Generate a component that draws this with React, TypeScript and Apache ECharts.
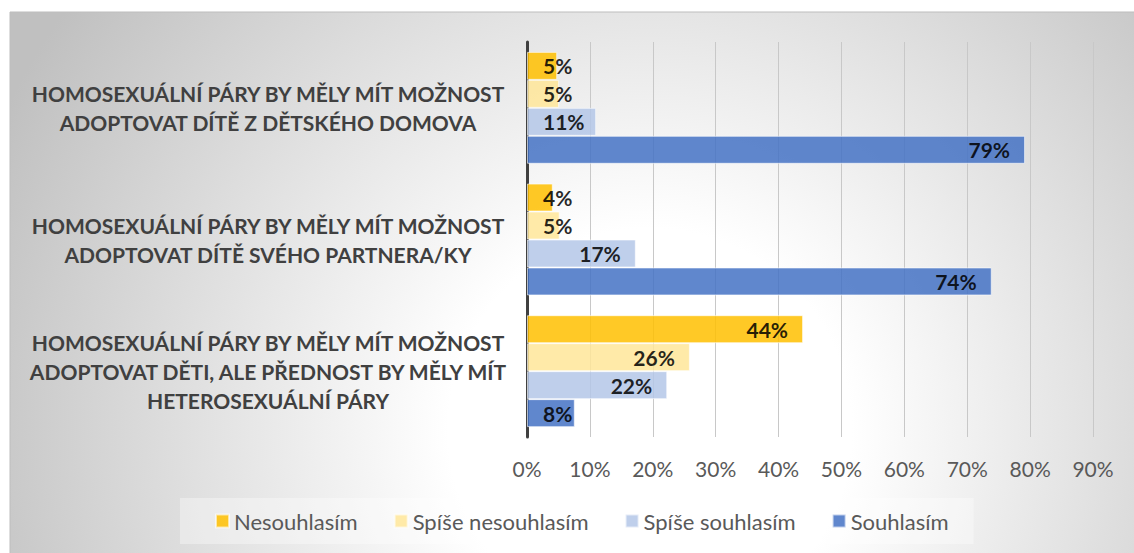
import React, { useEffect, useRef } from "react";
import * as echarts from "echarts";

const categories = [
  "HOMOSEXUÁLNÍ PÁRY BY MĚLY MÍT MOŽNOST\nADOPTOVAT DÍTĚ Z DĚTSKÉHO DOMOVA",
  "HOMOSEXUÁLNÍ PÁRY BY MĚLY MÍT MOŽNOST\nADOPTOVAT DÍTĚ SVÉHO PARTNERA/KY",
  "HOMOSEXUÁLNÍ PÁRY BY MĚLY MÍT MOŽNOST\nADOPTOVAT DĚTI, ALE PŘEDNOST BY MĚLY MÍT\nHETEROSEXUÁLNÍ PÁRY",
];
const seriesNames = ["Nesouhlasím", "Spíše nesouhlasím", "Spíše souhlasím", "Souhlasím"];
const nesouhlasim = [4.8, 4.1, 43.9];
const spiseNesouhlasim = [5.1, 5.2, 25.9];
const spiseSouhlasim = [11.0, 17.3, 22.3];
const souhlasim = [79.2, 73.9, 7.6];
const xTicks = [0, 10, 20, 30, 40, 50, 60, 70, 80, 90];

const colors = ["#FFC000", "#FFE699", "#B4C7E7", "#4472C4"];
const FONT = "Lato";

export default function App() {
  const ref = useRef<HTMLDivElement>(null);
  useEffect(() => {
    if (!ref.current) return;
    const chart = echarts.init(ref.current, undefined, { renderer: "svg" });
    const values = [nesouhlasim, spiseNesouhlasim, spiseSouhlasim, souhlasim];
    const series = values.map((vals, i) => ({
      name: seriesNames[i],
      type: "bar",
      barGap: "0%",
      barCategoryGap: "15%",
      itemStyle: {
        color: colors[i],
        opacity: 0.85,
        borderColor: "rgba(255,255,255,0.7)",
        borderWidth: 1,
      },
      label: {
        show: true,
        fontFamily: FONT,
        fontWeight: "bold",
        fontSize: 21,
        color: "#000000",
        formatter: (p: any) => Math.round(p.value) + "%",
      },
      data: vals.map((v) => ({
        value: v,
        label: v < 15 ? { position: "insideLeft", distance: 16 } : { position: "insideRight", distance: 15 },
      })),
    }));
    chart.setOption({
      animation: false,
      graphic: {
        z: -10,
        elements: [
          {
            type: "rect",
            z: -10,
            silent: true,
            shape: { x: 10, y: 12, width: 1140, height: 560 },
            style: {
              fill: new echarts.graphic.RadialGradient(650, 430, 720, [
                { offset: 0, color: "#ffffff" },
                { offset: 0.28, color: "#ffffff" },
                { offset: 1, color: "#c0c0c0" },
              ], true),
              stroke: "#bdbdbd",
              lineWidth: 1,
            },
          },
        ],
      },
      grid: { left: 527, right: 41, top: 42, bottom: 116, containLabel: false },
      xAxis: {
        type: "value",
        min: xTicks[0],
        max: xTicks[xTicks.length - 1],
        interval: 10,
        axisLine: { show: false },
        axisTick: { show: false },
        splitLine: { show: true, lineStyle: { color: "#c8c8c8", width: 1 } },
        axisLabel: {
          formatter: "{value}%",
          color: "#595959",
          fontFamily: FONT,
          fontSize: 21,
          margin: 21,
        },
      },
      yAxis: {
        type: "category",
        inverse: true,
        data: categories,
        axisLine: { show: true, lineStyle: { color: "#404040", width: 3 } },
        axisTick: { show: false },
        axisLabel: {
          align: "center",
          margin: 259,
          color: "#404040",
          fontFamily: FONT,
          fontWeight: "bold",
          fontSize: 21,
          lineHeight: 29,
        },
      },
      legend: {
        data: seriesNames,
        left: 180,
        top: 498,
        padding: [12, 25, 12, 35],
        backgroundColor: "rgba(255,255,255,0.35)",
        itemWidth: 13,
        itemHeight: 13,
        itemGap: 36,
        icon: "rect",
        textStyle: { color: "#595959", fontFamily: FONT, fontSize: 22 },
      },
      series,
    });
    return () => chart.dispose();
  }, []);
  return (
    <div
      ref={ref}
      style={{ position: "absolute", left: 0, top: 0, width: 1134, height: 553 }}
    />
  );
}
